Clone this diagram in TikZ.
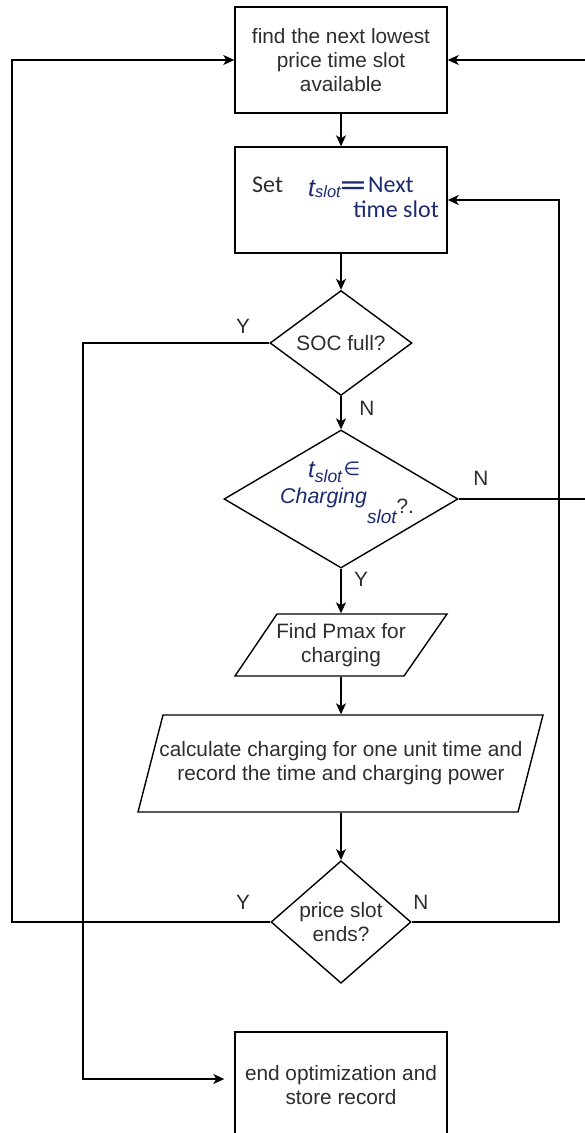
\documentclass[tikz,border=0pt]{standalone}
\usepackage{fontspec}
\setmainfont{Liberation Sans}
\newfontfamily\calibrifont{Carlito}
\newfontfamily\symbfont{DejaVu Sans}
\usepackage{graphicx}
\definecolor{fcnavy}{RGB}{30,42,110}
\definecolor{fctext}{RGB}{45,45,45}
\usetikzlibrary{arrows.meta,shapes.geometric,calc}
\tikzset{
  base/.style={draw, line width=1.4pt, inner sep=0pt, text=fctext, font=\fontsize{20.8}{24}\selectfont, align=center},
  procbox/.style={base, rectangle, minimum width=212pt, minimum height=106pt},
  decision/.style={base, diamond},
  iotext/.style={base, draw=none, rectangle},
  ioline/.style={line width=1.4pt, line join=miter},
  flow/.style={-{Stealth[length=11pt,width=10pt,inset=3pt]}, line width=1.3pt},
  yn/.style={text=fctext, font=\fontsize{20.8}{24}\selectfont, inner sep=0pt},
  txt/.style={anchor=base west, inner sep=0pt, text=fcnavy},
}

\begin{document}
\begin{tikzpicture}[x=1pt, y=-1pt]
  \useasboundingbox (0,0) rectangle (584,1133);
  % shapes
  \node[procbox] (find) at (341,60) {find the next lowest\\price time slot\\available};
  \node[procbox] (set) at (341,200) {};
  \node[decision, minimum width=142pt, minimum height=105pt] (soc) at (341,343) {SOC full?};
  \node[decision, minimum width=234pt, minimum height=138pt] (chk) at (341,499) {};
  \node[iotext, minimum width=170pt, minimum height=62pt] (pmax) at (341,645) {Find Pmax for\\charging};
  \draw[ioline] (235,676) -- (277,614) -- (447,614) -- (404,676) -- cycle;
  \node[iotext, minimum width=380pt, minimum height=97pt] (calc) at (341,763.5) {calculate charging for one unit time and\\record the time and charging power};
  \draw[ioline] (138,812) -- (163,715) -- (543,715) -- (518,812) -- cycle;
  \node[decision, minimum width=140pt, minimum height=105pt] (ends) at (341,922) {price slot\\ends?};
  \node[procbox] (endo) at (341,1085) {end optimization and\\store record};

  % text of the set box
  \node[txt, text=fctext, font=\calibrifont\fontsize{24}{28}\selectfont] (setw) at (252,192) {Set};
  \node[txt] (tslot) at (308,196) {\fontsize{25}{28}\selectfont\itshape t\fontsize{16.5}{20}\selectfont\raisebox{-1pt}{slot}};
  \node[inner sep=0pt, text=fcnavy, font=\symbfont\fontsize{28}{30}\selectfont] (eq) at (353,188) {\scalebox{1.25}[1]{=}};
  \node[txt, font=\calibrifont\fontsize{24}{28}\selectfont] (nxt) at (368,192) {Next};
  \node[txt, anchor=base east, font=\calibrifont\fontsize{24}{28}\selectfont] (tms) at (439,217) {time slot};

  % text of the slot test
  \node[txt] (tin) at (308,477) {\fontsize{24}{28}\selectfont\itshape t\fontsize{17.5}{20}\selectfont\raisebox{-5pt}{slot}};
  \node[inner sep=0pt, text=fcnavy, font=\symbfont\fontsize{19}{22}\selectfont] (elem) at (352,469) {∈};
  \node[txt] (chg) at (280,503) {\fontsize{21.4}{26}\selectfont\itshape Charging\fontsize{19}{22}\selectfont\raisebox{-20pt}{slot}\upshape\fontsize{20.8}{24}\selectfont\textcolor{fctext}{\raisebox{-10pt}{?.}}};

  % Y / N labels
  \node[yn] (y1) at (243,326) {Y};
  \node[yn] (n1) at (367,408) {N};
  \node[yn] (n2) at (481,478) {N};
  \node[yn] (y2) at (361,579) {Y};
  \node[yn] (y3) at (243,902) {Y};
  \node[yn] (n3) at (421,902) {N};

  % connectors
  \draw[flow] (find) -- (set);
  \draw[flow] (set) -- (soc);
  \draw[flow] (soc) -- (chk);
  \draw[flow] (chk) -- (pmax);
  \draw[flow] (pmax) -- (calc);
  \draw[flow] (calc) -- (ends);
  \draw[flow] (soc.west) -| (83,1079) -- ([xshift=-10pt,yshift=6pt]endo.west);
  \draw[flow] (chk.east) -| (592,60) -- (find.east);
  \draw[flow] (ends.west) -| (12,60) -- (find.west);
  \draw[flow] (ends.east) -| (559,200) -- (set.east);
\end{tikzpicture}
\end{document}
